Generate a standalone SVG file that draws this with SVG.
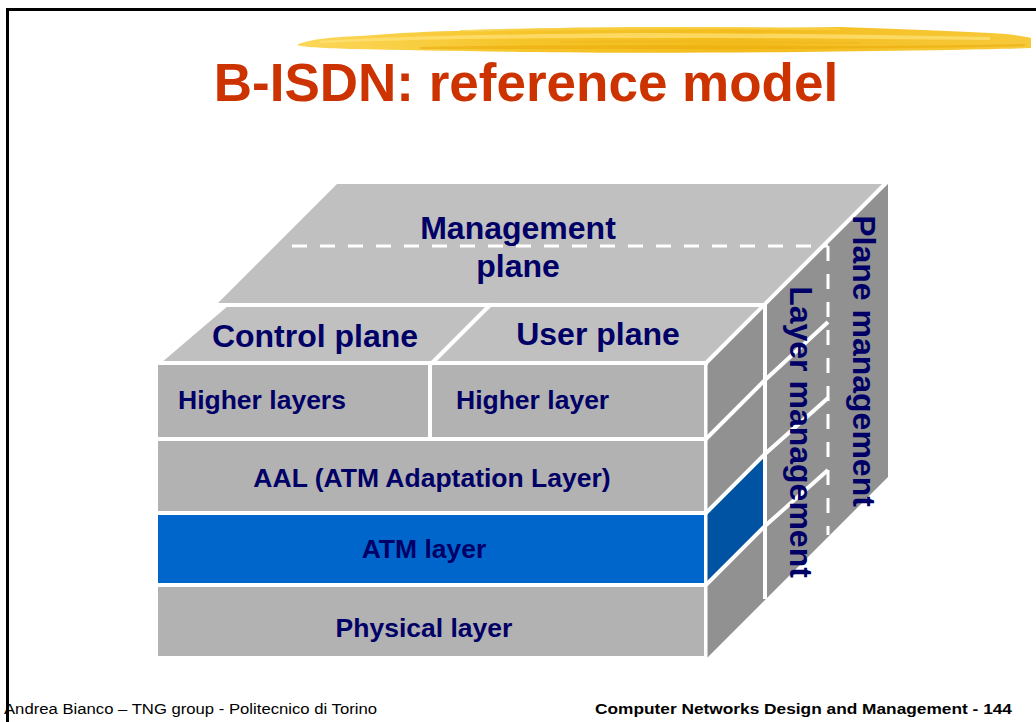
<svg xmlns="http://www.w3.org/2000/svg" width="1036" height="722" viewBox="0 0 1036 722">
  <defs>
    <linearGradient id="brush" x1="0" y1="0" x2="1" y2="0">
      <stop offset="0" stop-color="#FBD75A"/>
      <stop offset="0.3" stop-color="#F6C52A"/>
      <stop offset="0.6" stop-color="#F3BC1C"/>
      <stop offset="1" stop-color="#F7C93A"/>
    </linearGradient>
    <style>
      .lbl { font-family: "Liberation Sans", Arial, sans-serif; font-weight: bold; fill: #000066; }
      .top { fill: #C0C0C0; }
      .front { fill: #B2B2B2; }
      .side { fill: #919191; }
      .wl { stroke: #FFFFFF; stroke-width: 4; fill: none; stroke-linecap: butt; }
      .dash { stroke: #FFFFFF; stroke-width: 3; fill: none; stroke-dasharray: 15 13; }
    </style>
  </defs>

  <rect x="0" y="0" width="1036" height="722" fill="#FFFFFF"/>
  <path d="M7.5,722 V9.5 H1036" stroke="#000000" stroke-width="3" fill="none"/>

  <!-- brush stroke -->
  <g id="brush-stroke">
    <path d="M297,45 C305,40 330,37 360,36 C400,33 430,31 470,31 L520,29 C600,27 700,27 780,28 L840,27 C900,29 950,31 990,33 C1010,34 1025,36 1031,38 L1031,48 C1010,49 985,49 950,50 C900,51 850,51 800,52 C700,53 600,53 520,52 C460,51 400,50 350,49 C320,48 302,47 297,45 Z" fill="url(#brush)"/>
    <path d="M320,41 C400,36 520,34 640,33 C760,33 880,35 990,37 L990,40 C880,39 760,38 640,38 C520,38 420,39 320,43 Z" fill="#FFE27A" opacity="0.7"/>
    <path d="M420,47 C520,45 660,45 800,46 C900,46 970,45 1025,44 L1025,46 C960,48 880,48 800,49 C660,49 520,49 420,49 Z" fill="#E9A90A" opacity="0.55"/>
    <path d="M460,30 C560,27 700,26 840,28 L840,30 C700,29 560,30 460,32 Z" fill="#F7CF45" opacity="0.8"/>
    <path d="M560,41 C650,40 760,41 860,42 L860,44 C760,43 650,43 560,43 Z" fill="#F0B820" opacity="0.6"/>
  </g>

  <text x="526" y="101" text-anchor="middle" font-family="Liberation Sans, Arial, sans-serif" font-weight="bold" font-size="53" fill="#CC3300">B-ISDN: reference model</text>

  <!-- right face background -->
  <polygon class="side" points="705,364 886,183 888,183 888,477 707,658 705,658"/>

  <g id="management-plane">
    <polygon class="top" points="337,184 886,184 765,305 216,305"/>
    <text class="lbl" x="518" y="239" text-anchor="middle" font-size="32">Management</text>
    <text class="lbl" x="518" y="277" text-anchor="middle" font-size="32">plane</text>
  </g>
  <g id="control-plane">
    <polygon class="top" points="161,363 229,305 490,305 432,363"/>
    <text class="lbl" x="315" y="347" text-anchor="middle" font-size="32">Control plane</text>
  </g>
  <g id="user-plane">
    <polygon class="top" points="432,363 490,305 765,305 707,363"/>
    <text class="lbl" x="598" y="345" text-anchor="middle" font-size="32">User plane</text>
  </g>

  <g id="higher-layers">
    <rect class="front" x="158" y="365" width="270" height="72"/>
    <text class="lbl" x="178" y="409" font-size="26.5">Higher layers</text>
  </g>
  <g id="higher-layer">
    <rect class="front" x="432" y="365" width="272" height="72"/>
    <text class="lbl" x="456" y="409" font-size="26.5">Higher layer</text>
  </g>
  <g id="aal">
    <rect class="front" x="158" y="441" width="546" height="70"/>
    <text class="lbl" x="432" y="487" text-anchor="middle" font-size="26.5">AAL (ATM Adaptation Layer)</text>
  </g>
  <g id="atm-layer">
    <rect x="158" y="515" width="546" height="68" fill="#0066CC"/>
    <polygon points="705,513 765,453 765,525 705,585" fill="#0052A3"/>
    <text class="lbl" x="424" y="558" text-anchor="middle" font-size="26.5">ATM layer</text>
  </g>
  <g id="physical-layer">
    <rect class="front" x="158" y="587" width="546" height="69"/>
    <text class="lbl" x="424" y="637" text-anchor="middle" font-size="26.5">Physical layer</text>
  </g>

  <g id="connectors">
    <line class="wl" x1="214" y1="305" x2="766" y2="305"/>
    <line class="wl" x1="156" y1="363" x2="708" y2="363"/>
    <line class="wl" x1="888" y1="181" x2="704" y2="365"/>
    <line class="wl" x1="491" y1="304" x2="431" y2="364"/>
    <line class="wl" x1="430" y1="363" x2="430" y2="439"/>
    <line class="wl" x1="706" y1="363" x2="706" y2="660" style="stroke-width:3"/>
    <line class="wl" x1="765" y1="304" x2="765" y2="599"/>
    <polyline class="wl" points="156,439 706,439 765,380 828,322"/>
    <polyline class="wl" points="156,513 706,513 765,454 828,398"/>
    <polyline class="wl" points="156,585 706,585 765,526 828,470"/>
    <line class="dash" x1="292" y1="246" x2="828" y2="246"/>
    <line class="dash" x1="828" y1="246" x2="828" y2="535"/>
  </g>

  <g id="layer-management">
    <text class="lbl" transform="translate(790,432) rotate(90)" text-anchor="middle" font-size="32">Layer management</text>
  </g>
  <g id="plane-management">
    <text class="lbl" transform="translate(853,361) rotate(90)" text-anchor="middle" font-size="32">Plane management</text>
  </g>

  <text x="4" y="714" font-family="Liberation Sans, Arial, sans-serif" font-size="15.5" fill="#000000" textLength="373" lengthAdjust="spacingAndGlyphs">Andrea Bianco – TNG group - Politecnico di Torino</text>
  <text x="595" y="714" font-family="Liberation Sans, Arial, sans-serif" font-weight="bold" font-size="15.5" fill="#000000" textLength="417" lengthAdjust="spacingAndGlyphs">Computer Networks Design and Management - 144</text>
</svg>
